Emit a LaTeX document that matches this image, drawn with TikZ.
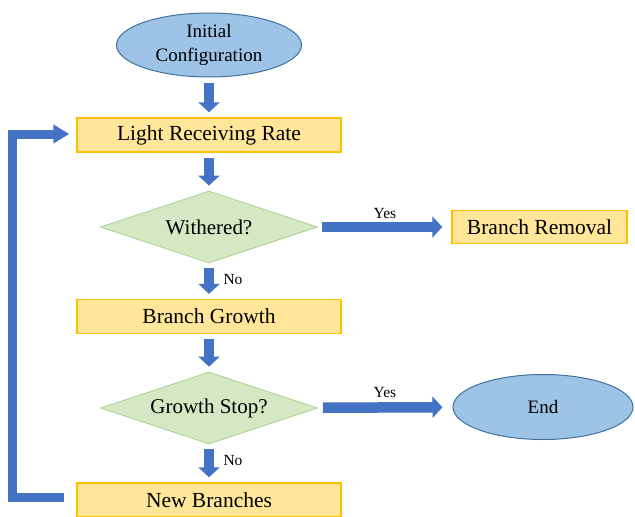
\documentclass[tikz,border=0pt]{standalone}
\usepackage{fontspec}
\setmainfont{Liberation Serif}
\usetikzlibrary{shapes.geometric,arrows.meta}
\definecolor{ellfill}{HTML}{9DC3E6}
\definecolor{elldraw}{HTML}{41719C}
\definecolor{boxfill}{HTML}{FFE699}
\definecolor{boxdraw}{HTML}{FFC000}
\definecolor{dfill}{HTML}{D5E8C4}
\definecolor{ddraw}{HTML}{A9D18E}
\definecolor{arrblue}{HTML}{4472C4}
\begin{document}
\begin{tikzpicture}[x=1pt,y=-1pt,
  term/.style={ellipse, draw=elldraw, fill=ellfill, line width=1pt, inner sep=0pt,
    minimum width=185pt, minimum height=64pt, font=\fontsize{19}{24}\selectfont, align=center},
  procbox/.style={rectangle, draw=boxdraw, fill=boxfill, line width=1.4pt, inner sep=0pt,
    minimum width=264pt, minimum height=34pt, font=\fontsize{21.5}{25}\selectfont},
  decide/.style={diamond, aspect=3, draw=ddraw, fill=dfill, line width=0.8pt, inner sep=0pt,
    minimum width=217pt, minimum height=72pt, font=\fontsize{21}{25}\selectfont},
  flow/.style={draw=arrblue, line width=10.5pt, -{Triangle[width=21pt,length=10pt]},
    shorten <=5pt, shorten >=5pt},
  feedback/.style={draw=arrblue, line width=9pt, line join=miter,
    -{Triangle[width=18pt,length=16pt]}},
  lbl/.style={font=\fontsize{15.5}{18}\selectfont, inner sep=0pt}
]
\useasboundingbox (0,0) rectangle (635,517);

\node[term] (init) at (209,45) {Initial\\Configuration};
\node[procbox] (light) at (209,135) {Light Receiving Rate};
\node[decide] (wither) at (209,227) {Withered?};
\node[procbox, minimum width=175pt, minimum height=33pt] (remove) at (539.5,227) {Branch Removal};
\node[procbox] (grow) at (209,316.5) {Branch Growth};
\node[decide] (stop) at (209,408) {Growth Stop?};
\node[term, minimum width=180pt, minimum height=65pt] (end) at (543,407) {End};
\node[procbox] (newb) at (209,500) {New Branches};

\draw[flow] (init) -- (light);
\draw[flow] (light) -- (wither);
\draw[flow] (wither) -- (grow);
\draw[flow] (grow) -- (stop);
\draw[flow] (stop) -- (newb);
\draw[flow, shorten <=4pt, shorten >=9pt] (wither) -- (remove);
\draw[flow, shorten <=6pt, shorten >=10pt] (stop) -- (end);

\node[lbl] (yes1) at (385,213) {Yes};
\node[lbl] (yes2) at (385,392) {Yes};
\node[lbl] (no1) at (233,279) {No};
\node[lbl] (no2) at (233,460) {No};

\coordinate (corner) at (12.5,497.5);
\draw[feedback] ([xshift=-12pt]newb.west |- corner) -- (corner) |- ([xshift=-7pt,yshift=1pt]light.west);
\end{tikzpicture}
\end{document}
